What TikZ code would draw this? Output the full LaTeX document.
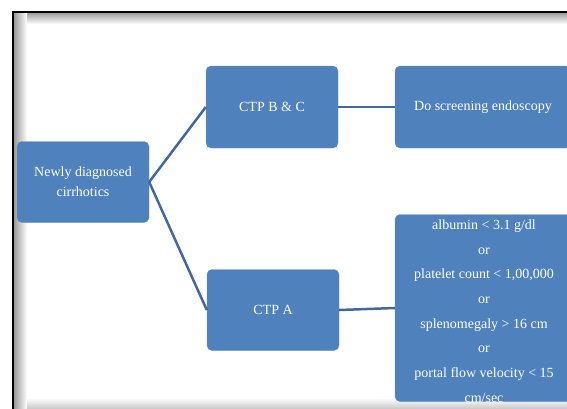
\documentclass[tikz,border=0pt]{standalone}
\usepackage{fontspec}
\setmainfont{Liberation Serif}
\usetikzlibrary{positioning}
\definecolor{boxblue}{HTML}{4F81BD}
\definecolor{linkblue}{HTML}{41699B}

\begin{document}
\begin{tikzpicture}[x=1pt, y=-1pt,
    box/.style={fill=boxblue, draw=boxblue!85!white, rounded corners=5pt, text=white,
        font=\fontsize{14}{20}\selectfont, align=center, inner sep=0pt},
    link/.style={linkblue, line width=2.5pt}]
    \useasboundingbox (0,0) rectangle (567,408);

    % Frame with shadow
    \shade[top color=black!45, bottom color=white] (12,11) rectangle (600,24);
    \shade[left color=black!45, right color=white] (12,11) rectangle (27,430);
    \shade[top color=white, bottom color=black!20] (27,398) rectangle (600,408);
    \draw[line width=2pt] (13,430) -- (13,12) -- (600,12);

    % Boxes
    \node[box, minimum width=132pt, minimum height=81pt] (new) at (83,182) {Newly diagnosed\\cirrhotics};
    \node[box, minimum width=132pt, minimum height=82pt] (bc) at (272,107) {CTP B \& C};
    \node[box, minimum width=176pt, minimum height=82pt] (endo) at (483,107) {Do screening endoscopy};
    \node[box, minimum width=132pt, minimum height=81pt] (ctpa) at (273,310) {CTP A};
    \node[box, minimum width=178pt, minimum height=187pt] (crit) at (484,308) {};
    \node[text=white, font=\fontsize{14}{24.7}\selectfont, align=center, inner sep=0pt] (critlist) at (484,311)
        {albumin < 3.1 g/dl\\or\\platelet count < 1,00,000\\or\\splenomegaly > 16 cm\\or\\portal flow velocity < 15\\cm/sec};

    % Connectors
    \draw[link] (new.east) -- (bc.west);
    \draw[link] (new.east) -- (ctpa.west);
    \draw[link] (bc.east) -- (endo.west);
    \draw[link] (ctpa.east) -- (crit.west);
\end{tikzpicture}
\end{document}
